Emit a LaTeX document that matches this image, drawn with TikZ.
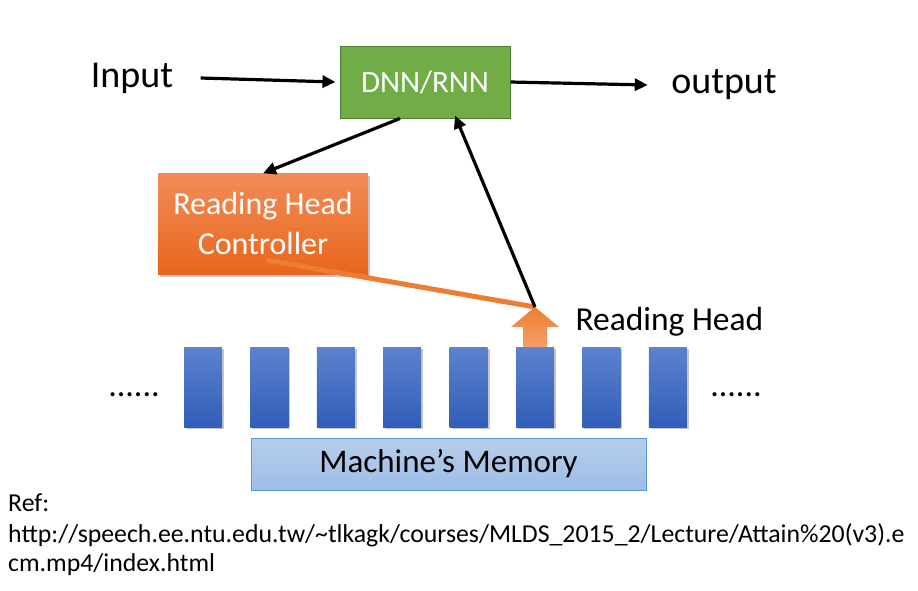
\documentclass[tikz,border=0pt]{standalone}
\usepackage{fontspec}
\setmainfont{Carlito}
\usepackage{tikz}
\usetikzlibrary{arrows.meta,calc}

\definecolor{dnngreen}{RGB}{112,173,71}
\definecolor{dnnedge}{RGB}{80,126,50}
\definecolor{headorange}{RGB}{237,125,49}
\definecolor{blockblue}{RGB}{47,94,184}

\begin{document}
\begin{tikzpicture}[x=1pt,y=-1pt,
  arr/.style={-{Triangle[length=13pt,width=12pt]},line width=3.2pt},
  lbl/.style={font=\fontsize{38}{40}\selectfont},
  shadowbox/.style={fill=black,opacity=0.22},
  greenbox/.style={draw=dnnedge,line width=1pt,fill=dnngreen,text=white,
    minimum width=170pt,minimum height=72pt,font=\fontsize{31}{33}\selectfont},
  ctrlbox/.style={top color={rgb,255:red,242;green,140;blue,85},
    bottom color={rgb,255:red,232;green,102;blue,30},text=white,
    minimum width=210pt,minimum height=101pt,align=center,
    font=\fontsize{32}{40}\selectfont},
  memblock/.style={top color={rgb,255:red,92;green,130;blue,205},
    bottom color=blockblue,minimum width=38pt,minimum height=80pt},
  membox/.style={draw={rgb,255:red,91;green,155;blue,213},line width=1pt,
    top color={rgb,255:red,182;green,206;blue,235},
    bottom color={rgb,255:red,157;green,189;blue,230},
    minimum width=395pt,minimum height=52pt,
    font=\fontsize{33}{35}\selectfont},
  reftext/.style={anchor=west,inner sep=0pt,font=\fontsize{25.8}{27}\selectfont}]
\useasboundingbox (0,0) rectangle (918,590);

\node[greenbox] (dnn) at (425,82) {DNN/RNN};
\node[lbl] (input) at (132,78) {Input};
\node[lbl] (output) at (724,85) {output};
\fill[shadowbox] (160,176) rectangle (370,277);
\node[ctrlbox] (ctrl) at (263,224) {Reading Head\\Controller};

% memory
\foreach \i in {0,...,7} {
  \fill[shadowbox] ({186+66.4*\i},349) rectangle ++(38,80);
  \node[memblock] (m\i) at ({203+66.4*\i},387) {};
}
\node[font=\fontsize{34}{36}\selectfont] (ldots) at (134,395) {......};
\node[font=\fontsize{34}{36}\selectfont] (rdots) at (736,395) {......};
\node[membox] (mem) at (448.5,464) {Machine’s Memory};

% reading head
\shade[top color=headorange,bottom color={rgb,255:red,244;green,160;blue,105}]
  (535,307) -- (559,327) -- (547,327) -- (547,347) -- (523,347)
  -- (523,327) -- (511,327) -- cycle;
\coordinate (headtip) at (535,307);
\node[lbl,font=\fontsize{33.5}{35}\selectfont,anchor=west] (headlbl) at (572,322) {Reading Head};

\coordinate (ctrlpt) at (266,260);
\draw[headorange,line width=5pt] (ctrlpt) -- (headtip);

\draw[arr] ([xshift=24pt]input.east) -- ([xshift=-4pt]dnn.west);
\draw[arr] (dnn.east) -- ([xshift=-20pt]output.west);
\draw[arr] ([xshift=-25pt]dnn.south) -- (ctrl.north);
\draw[arr] (headtip) -- ([xshift=30pt,yshift=3pt]dnn.south);

\node[reftext] (ref1) at (8,503) {Ref:};
\node[reftext] (ref2) at (8,535) {http://speech.ee.ntu.edu.tw/\textasciitilde tlkagk/courses/MLDS\_2015\_2/Lecture/Attain\%20(v3).e};
\node[reftext] (ref3) at (8,565) {cm.mp4/index.html};
\end{tikzpicture}
\end{document}
